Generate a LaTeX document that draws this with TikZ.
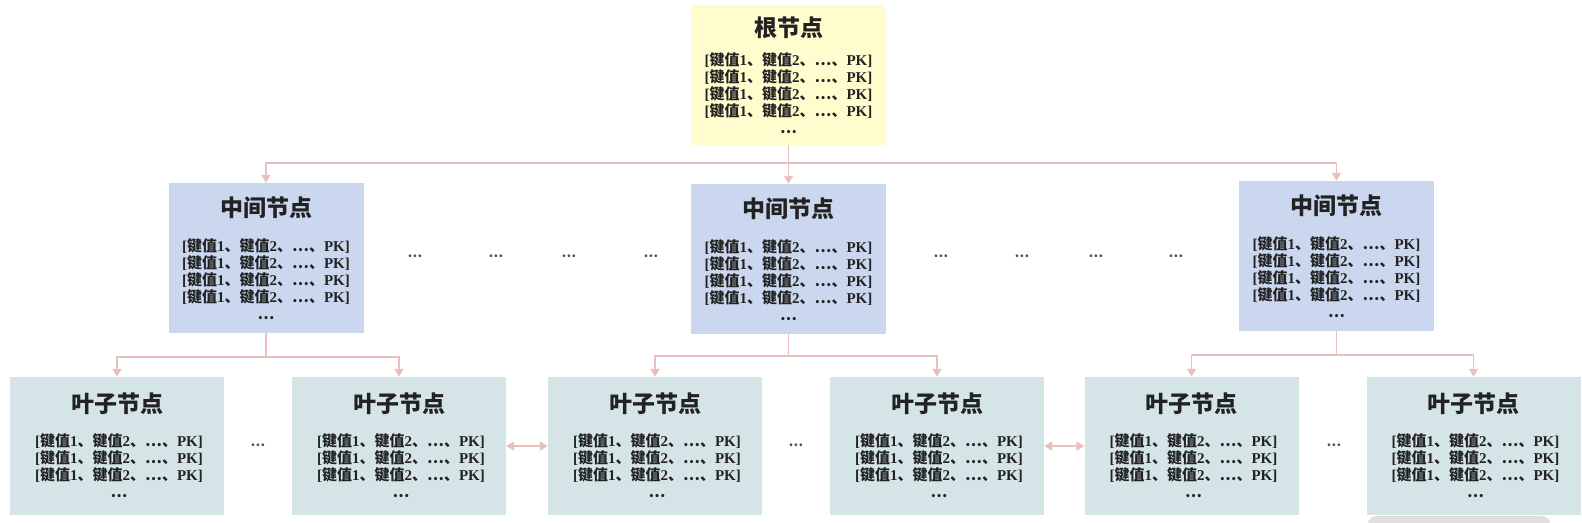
\documentclass[tikz,border=0pt]{standalone}
\usepackage{fontspec}
\setmainfont{Liberation Serif}
\newfontfamily\cjk{Noto Sans CJK SC}
\usetikzlibrary{arrows.meta}
\definecolor{rootc}{HTML}{FFFDCD}
\definecolor{midc}{HTML}{CAD7EF}
\definecolor{leafc}{HTML}{D5E4E6}
\definecolor{linec}{HTML}{E9C0BE}
\definecolor{txt}{HTML}{222222}
\newcommand\kvl{{\bfseries[}{\cjk\bfseries 键值}{\bfseries 1}{\cjk\bfseries 、键值}{\bfseries 2}{\cjk\bfseries 、…、}{\bfseries PK]}}
\newcommand\dotsl{{\cjk\bfseries …}}
\tikzset{
  boxbase/.style={rectangle, inner sep=0pt, draw=none},
  rootbox/.style={boxbase, fill=rootc, minimum width=195pt, minimum height=140pt},
  midbox/.style={boxbase, fill=midc, minimum width=195pt, minimum height=150pt},
  leafbox/.style={boxbase, fill=leafc, minimum width=214pt, minimum height=138pt},
  ttl/.style={anchor=base, inner sep=0pt, text=txt, font=\fontsize{23}{26}\selectfont\cjk\bfseries},
  body/.style={anchor=base, inner sep=0pt, text=txt, align=center, font=\fontsize{15}{17}\selectfont},
  gap/.style={inner sep=0pt, text=txt!80, font=\fontsize{13}{14}\selectfont},
  conn/.style={draw=linec, line width=1.8pt},
  arr/.style={conn, -{Triangle[width=9pt,length=8pt]}},
  darr/.style={conn, {Triangle[width=9pt,length=8pt]}-{Triangle[width=9pt,length=8pt]}},
}
\begin{document}
\begin{tikzpicture}[x=1pt,y=-1pt]
\useasboundingbox (0,0) rectangle (1582,522);
\fill[gray!25, rounded corners=8pt] (1368,516) rectangle (1550,540);
% root
\node[rootbox] (root) at (788.5,75) {};
\node[ttl] (roott) at (788.5,36) {根节点};
\node[body] (rootb) at (788.5,133.5) {\kvl\\\kvl\\\kvl\\\kvl\\\dotsl};
% middle nodes
\node[midbox] (m1) at (266,258) {};
\node[midbox] (m2) at (788.5,259) {};
\node[midbox] (m3) at (1336.5,256) {};
\foreach \n/\x/\t in {m1/266/183, m2/788.5/184, m3/1336.5/181}{
  \node[ttl] (\n t) at (\x,\t+33) {中间节点};
  \node[body] (\n b) at (\x,\t+136.5) {\kvl\\\kvl\\\kvl\\\kvl\\\dotsl};
}
% leaves
\foreach \n/\x in {l1/117, l2/399, l3/655, l4/937, l5/1191.5, l6/1473.5}{
  \node[leafbox] (\n) at (\x,446) {};
  \node[ttl] (\n t) at (\x,412.5) {叶子节点};
  \node[body] (\n b) at (\x+2,497.5) {\kvl\\\kvl\\\kvl\\\dotsl};
}
% gaps between middle nodes
\foreach \i/\x in {1/415, 2/496, 3/569, 4/651, 5/941, 6/1022, 7/1096, 8/1176}{
  \node[gap] (g\i) at (\x,256) {\dotsl};
}
\foreach \i/\x in {1/258, 2/796, 3/1334}{
  \node[gap] (h\i) at (\x,445) {\dotsl};
}
% root connectors
\coordinate (rj) at (788.5,163);
\draw[conn] (root.south) -- (rj);
\draw[arr] (rj) -| (m1.north);
\draw[arr] (rj) -- (m2.north);
\draw[arr] (rj) -| (m3.north);
% middle to leaves
\coordinate (j1) at (266,357);
\coordinate (j2) at (788.5,356);
\coordinate (j3) at (1336.5,355);
\draw[conn] (m1.south) -- (j1);
\draw[arr] (j1) -| (l1.north);
\draw[arr] (j1) -| (l2.north);
\draw[conn] (m2.south) -- (j2);
\draw[arr] (j2) -| (l3.north);
\draw[arr] (j2) -| (l4.north);
\draw[conn] (m3.south) -- (j3);
\draw[arr] (j3) -| (l5.north);
\draw[arr] (j3) -| (l6.north);
% leaf links
\draw[darr] (l2.east) -- (l3.west);
\draw[darr] (l4.east) -- (l5.west);
\end{tikzpicture}
\end{document}
